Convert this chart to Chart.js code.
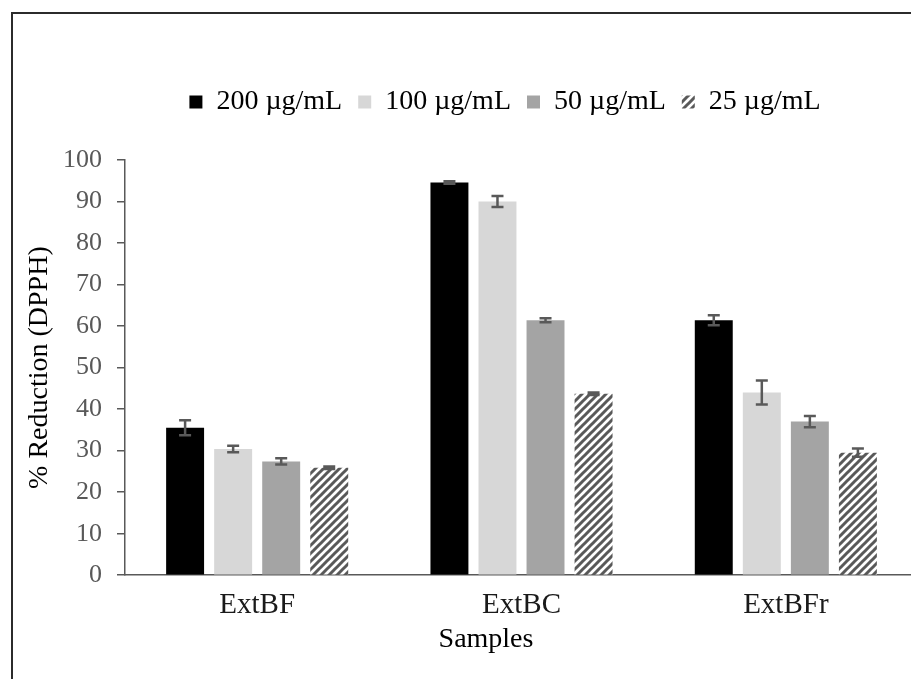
<!DOCTYPE html>
<html>
<head>
<meta charset="utf-8">
<script src="https://cdn.jsdelivr.net/npm/chart.js@4.4.0/dist/chart.umd.min.js"></script>
<style>
  html, body { margin: 0; padding: 0; background: #fff; overflow: hidden; }
  #wrap { position: relative; width: 911px; height: 679px; overflow: hidden; }
  #frame { position: absolute; left: 11px; top: 12px; width: 1000px; height: 1000px;
    border-left: 2px solid #2b2b2b; border-top: 2px solid #2b2b2b; pointer-events: none; }
  canvas { position: absolute; left: 0; top: 0; }
</style>
</head>
<body>
<div id="wrap">
  <canvas id="dpphChart" width="930" height="679"></canvas>
  <div id="frame"></div>
</div>
<script>
// data
const samples = ['ExtBF', 'ExtBC', 'ExtBFr'];
const concLabels = ['200 µg/mL', '100 µg/mL', '50 µg/mL', '25 µg/mL'];
const c200 = [35.5, 94.6, 61.4];
const c100 = [30.4, 90.0, 44.0];
const c50 = [27.4, 61.4, 37.0];
const c25 = [25.9, 43.7, 29.5];
const err200 = [1.8, 0.3, 1.2];
const err100 = [0.8, 1.3, 2.9];
const err50 = [0.75, 0.5, 1.35];
const err25 = [0.3, 0.3, 1.0];
const yTicks = [0, 10, 20, 30, 40, 50, 60, 70, 80, 90, 100];

const serif = "'Liberation Serif', 'Times New Roman', serif";

// wide upward diagonal hatch
function makeHatch() {
    const c = document.createElement('canvas');
    c.width = 8; c.height = 8;
    const g = c.getContext('2d');
    g.fillStyle = '#fff';
    g.fillRect(0, 0, 8, 8);
    g.strokeStyle = '#595959';
    g.lineWidth = 3;
    g.beginPath();
    g.moveTo(-2, 10); g.lineTo(10, -2);
    g.moveTo(-6, 6); g.lineTo(6, -6);
    g.moveTo(2, 14); g.lineTo(14, 2);
    g.stroke();
    return g.createPattern(c, 'repeat');
}

const ctx = document.getElementById('dpphChart').getContext('2d');
const hatch = makeHatch();

// error bars drawn from the y scale
const errorBars = {
    id: 'errorBars',
    afterDatasetsDraw(chart) {
        const y = chart.scales.y;
        const c = chart.ctx;
        c.save();
        c.strokeStyle = '#595959';
        c.lineWidth = 2.5;
        chart.data.datasets.forEach((ds, i) => {
            const meta = chart.getDatasetMeta(i);
            meta.data.forEach((bar, j) => {
                const v = ds.data[j], e = ds.errors[j];
                const top = y.getPixelForValue(v + e);
                const bot = y.getPixelForValue(v - e);
                c.beginPath();
                c.moveTo(bar.x, top); c.lineTo(bar.x, bot);
                c.moveTo(bar.x - 6, top); c.lineTo(bar.x + 6, top);
                c.moveTo(bar.x - 6, bot); c.lineTo(bar.x + 6, bot);
                c.stroke();
            });
        });
        c.restore();
    }
};

// the legend in the original is centred a bit right of the canvas middle
const legendShift = {
    id: 'legendShift',
    afterLayout(chart) {
        if (chart.legend) chart.legend.left += 78;
    }
};

// x axis title sits left of centre in the original
const xTitle = {
    id: 'xTitle',
    afterDraw(chart) {
        const c = chart.ctx;
        c.save();
        c.font = '28px ' + serif;
        c.fillStyle = '#000';
        c.textAlign = 'center';
        c.textBaseline = 'middle';
        c.fillText('Samples', chart.chartArea.left + 361, 640);
        c.restore();
    }
};

const common = { barPercentage: 0.79, categoryPercentage: 0.727, borderWidth: 0 };

new Chart(ctx, {
    type: 'bar',
    data: {
        labels: samples,
        datasets: [
            { label: concLabels[0], data: c200, errors: err200, backgroundColor: '#000000', ...common },
            { label: concLabels[1], data: c100, errors: err100, backgroundColor: '#d7d7d7', ...common },
            { label: concLabels[2], data: c50, errors: err50, backgroundColor: '#a4a4a4', ...common },
            { label: concLabels[3], data: c25, errors: err25, backgroundColor: hatch, ...common }
        ]
    },
    options: {
        responsive: false,
        animation: false,
        devicePixelRatio: 1,
        layout: { padding: { left: 14, right: 12, top: 72, bottom: 43 } },
        plugins: {
            legend: {
                weight: 3000,
                labels: {
                    boxWidth: 13,
                    boxHeight: 13,
                    padding: 16,
                    color: '#000',
                    font: { family: serif, size: 28 }
                }
            },
            // spacer between legend and plot
            title: { display: true, text: '', font: { size: 10 }, padding: { top: 0, bottom: 22 } },
            tooltip: { enabled: false }
        },
        scales: {
            x: {
                grid: { display: false, drawTicks: false },
                border: { display: true, color: '#595959', width: 1.5 },
                ticks: { color: '#1a1a1a', padding: 13, font: { family: serif, size: 29 } }
            },
            y: {
                min: 0,
                max: 100,
                afterBuildTicks: (axis) => { axis.ticks = yTicks.map(v => ({ value: v })); },
                afterFit: (axis) => { axis.width = 111; },
                grid: { drawOnChartArea: false, drawTicks: true, tickLength: 8, color: '#595959', lineWidth: 1.5 },
                border: { display: true, color: '#595959', width: 1.5 },
                ticks: { color: '#595959', padding: 15, font: { family: serif, size: 26 } },
                title: {
                    display: true,
                    text: '% Reduction (DPPH)',
                    color: '#000',
                    padding: { top: 9, bottom: 0 },
                    font: { family: serif, size: 28 }
                }
            }
        }
    },
    plugins: [errorBars, legendShift, xTitle]
});
</script>
</body>
</html>
